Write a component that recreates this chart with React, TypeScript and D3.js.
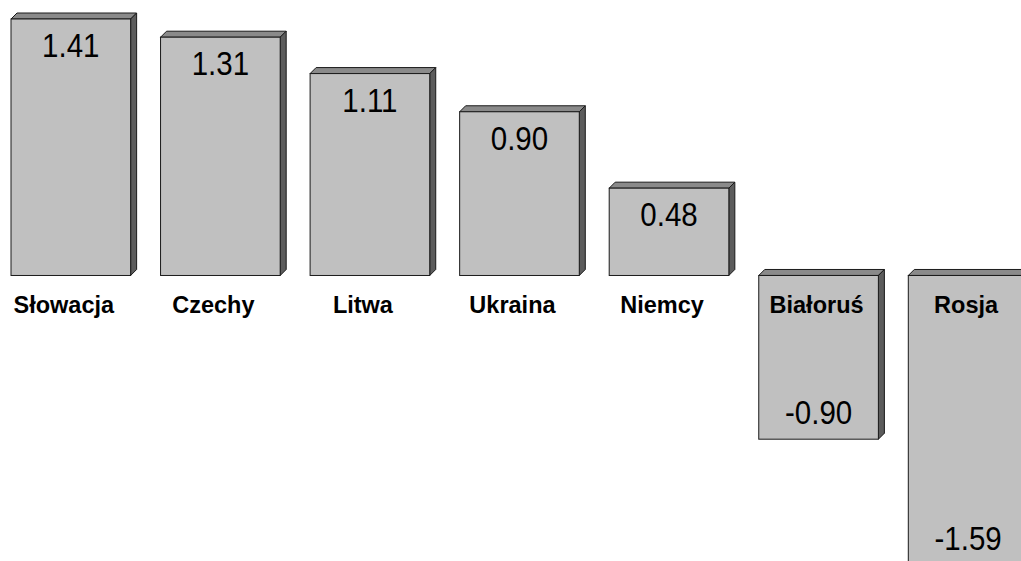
import React from "react";
import * as d3 from "d3";

const categories = ["Słowacja", "Czechy", "Litwa", "Ukraina", "Niemcy", "Białoruś", "Rosja"];
const values = [1.41, 1.31, 1.11, 0.9, 0.48, -0.9, -1.59];
const valueLabels = ["1.41", "1.31", "1.11", "0.90", "0.48", "-0.90", "-1.59"];

const W = 1021;
const H = 561;
const DEPTH = 6;

export default function App() {
  const x = d3
    .scaleBand<string>()
    .domain(categories)
    .range([11, 11 + 149.55 * (categories.length - 0.2)])
    .paddingInner(0.2)
    .paddingOuter(0)
    .align(0);
  const y = d3.scaleLinear().domain([-1.59, 1.41]).range([564.7, 19]);
  const y0 = y(0);
  const bw = x.bandwidth();
  const font = "Arial, 'Liberation Sans', Helvetica, sans-serif";

  return (
    <svg
      width={W}
      height={H}
      style={{ position: "absolute", left: 0, top: 0, background: "#fff", display: "block" }}
    >
      {categories.map((c, i) => {
        const v = values[i];
        const x0 = x(c)!;
        const x1 = x0 + bw;
        const top = Math.min(y(v), y0);
        const bot = Math.max(y(v), y0);
        const d = DEPTH;
        const topFace = `M${x0},${top} L${x0 + d},${top - d} L${x1 + d},${top - d} L${x1},${top} Z`;
        const sideFace = `M${x1},${top} L${x1 + d},${top - d} L${x1 + d},${bot - d} L${x1},${bot} Z`;
        const cx = x0 + bw / 2;
        const valY = v >= 0 ? top + 38 : bot - 15;
        const labX = v >= 0 ? cx - 7 : cx - 2;
        return (
          <g key={c}>
            <path d={topFace} fill="#8a8a8a" stroke="#1a1a1a" strokeWidth={1} />
            <path d={sideFace} fill="#5c5c5c" stroke="#1a1a1a" strokeWidth={1} />
            <rect x={x0} y={top} width={bw} height={bot - top} fill="#c0c0c0" stroke="#1a1a1a" strokeWidth={1} />
            <text
              transform={`translate(${cx},${valY}) scale(1,1.1)`}
              textAnchor="middle"
              fontFamily={font}
              fontSize={29.5}
              fill="#000"
            >
              {valueLabels[i]}
            </text>
            <text x={labX} y={312.5} textAnchor="middle" fontFamily={font} fontSize={23.5} fontWeight="bold" fill="#000">
              {c}
            </text>
          </g>
        );
      })}
    </svg>
  );
}
